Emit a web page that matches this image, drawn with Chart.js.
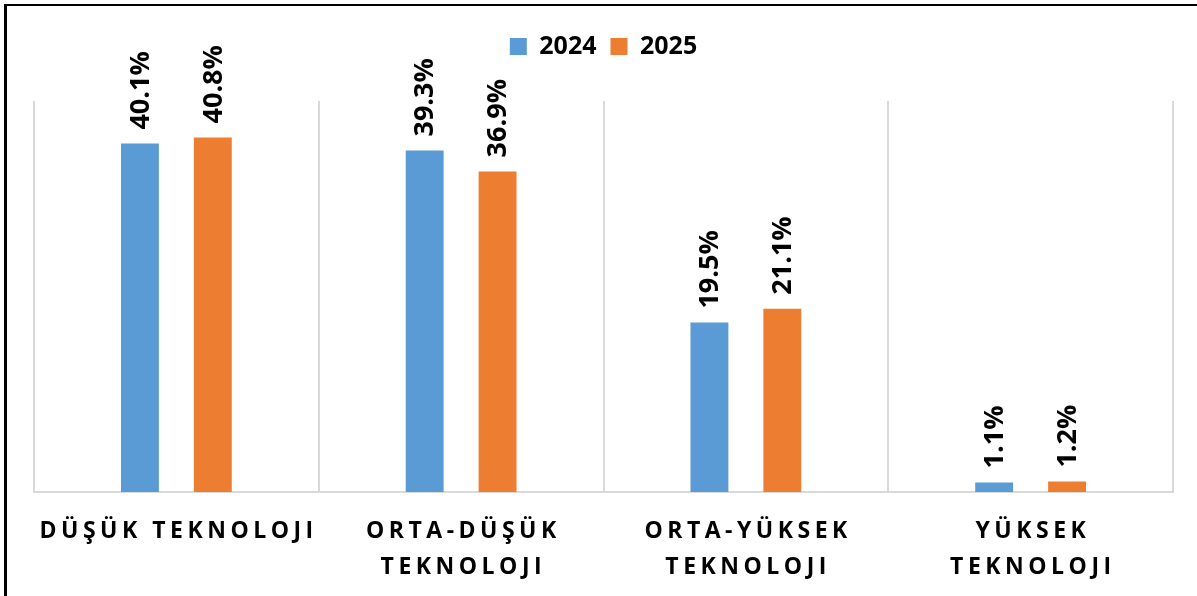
<!DOCTYPE html>
<html>
<head>
<meta charset="utf-8">
<script src="https://cdn.jsdelivr.net/npm/chart.js@4/dist/chart.umd.min.js"></script>
<style>
    html, body { margin: 0; padding: 0; background: #fff; }
    #wrap { position: relative; width: 1197px; height: 596px; overflow: hidden; }
    #frame {
        position: absolute; left: 4px; top: 4px; right: 0; bottom: 0;
        border-top: 2px solid #000; border-left: 3px solid #000;
    }
    #chart { position: absolute; left: 0; top: 0; }
</style>
</head>
<body>
<div id="wrap">
    <div id="frame"></div>
    <canvas id="chart" width="1197" height="596"></canvas>
</div>
<script>
// Chart data
const categories = [
    ['DÜŞÜK TEKNOLOJI'],
    ['ORTA-DÜŞÜK', 'TEKNOLOJI'],
    ['ORTA-YÜKSEK', 'TEKNOLOJI'],
    ['YÜKSEK', 'TEKNOLOJI']
];
const seriesNames = ['2024', '2025'];
const values2024 = [40.1, 39.3, 19.5, 1.1];
const values2025 = [40.8, 36.9, 21.1, 1.2];

const FONT = '"Open Sans", "Liberation Sans", sans-serif';

// Rotated value labels above each bar
const barLabels = {
    id: 'barLabels',
    afterDatasetsDraw(chart) {
        const ctx = chart.ctx;
        ctx.save();
        ctx.font = 'bold 27px ' + FONT;
        ctx.fillStyle = '#000';
        ctx.textAlign = 'left';
        ctx.textBaseline = 'middle';
        chart.data.datasets.forEach((ds, i) => {
            chart.getDatasetMeta(i).data.forEach((bar, j) => {
                ctx.save();
                ctx.translate(bar.x + 1, bar.y - 14);
                ctx.rotate(-Math.PI / 2);
                ctx.fillText(ds.data[j].toFixed(1) + '%', 0, 0);
                ctx.restore();
            });
        });
        ctx.restore();
    }
};

// Category labels with wide letter spacing (placed from the x scale)
const categoryLabels = {
    id: 'categoryLabels',
    afterDraw(chart) {
        const ctx = chart.ctx;
        const xScale = chart.scales.x;
        const spacing = 4.5;
        ctx.save();
        ctx.font = 'bold 23px ' + FONT;
        ctx.fillStyle = '#000';
        ctx.textAlign = 'left';
        ctx.textBaseline = 'alphabetic';
        ctx.letterSpacing = spacing + 'px';
        categories.forEach((lines, i) => {
            const cx = xScale.getPixelForValue(i);
            lines.forEach((line, k) => {
                const w = ctx.measureText(line).width - spacing;
                ctx.fillText(line, cx - w / 2, xScale.bottom + 46 + k * 36);
            });
        });
        ctx.restore();
    }
};

// Extra room between the legend and the plot
const legendGap = {
    id: 'legendGap',
    beforeLayout(chart) {
        const legend = chart.legend;
        if (legend && !legend._gapWrapped) {
            const fit = legend.fit;
            legend.fit = function() {
                fit.call(this);
                this.height += 32;
            };
            legend._gapWrapped = true;
        }
    }
};

const ctx = document.getElementById('chart').getContext('2d');
new Chart(ctx, {
    type: 'bar',
    data: {
        labels: categories,
        datasets: [{
            label: seriesNames[0],
            data: values2024,
            backgroundColor: '#5B9BD5',
            categoryPercentage: 0.512,
            barPercentage: 0.52
        }, {
            label: seriesNames[1],
            data: values2025,
            backgroundColor: '#ED7D31',
            categoryPercentage: 0.512,
            barPercentage: 0.52
        }]
    },
    options: {
        responsive: false,
        animation: false,
        layout: {
            padding: { top: 20, left: 34, right: 24, bottom: 104 }
        },
        plugins: {
            legend: {
                position: 'top',
                labels: {
                    boxWidth: 17,
                    boxHeight: 17,
                    padding: 14,
                    color: '#000',
                    font: { family: FONT, size: 25, weight: 'bold' }
                }
            },
            tooltip: { enabled: false }
        },
        scales: {
            x: {
                grid: {
                    offset: true,
                    color: '#d9d9d9',
                    lineWidth: 2,
                    drawTicks: false
                },
                border: { color: '#d9d9d9', width: 2 },
                ticks: { display: false }
            },
            y: {
                display: false,
                min: 0,
                max: 45
            }
        }
    },
    plugins: [barLabels, categoryLabels, legendGap]
});
</script>
</body>
</html>
